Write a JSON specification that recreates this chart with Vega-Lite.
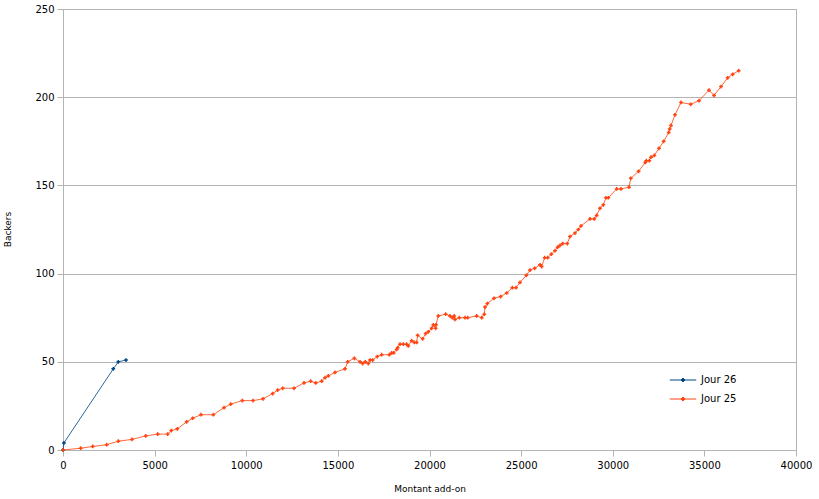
{
  "$schema": "https://vega.github.io/schema/vega-lite/v6.json",
  "width": 733,
  "height": 441,
  "autosize": {"type": "none"},
  "padding": {"left": 63, "top": 9, "right": 23, "bottom": 49},
  "background": "white",
  "config": {
    "font": "DejaVu Sans",
    "view": {"stroke": "#b3b3b3", "strokeWidth": 1},
    "axis": {
      "labelFont": "DejaVu Sans",
      "labelFontSize": 10,
      "labelColor": "#000000",
      "titleFont": "DejaVu Sans",
      "titleFontSize": 9,
      "titleFontWeight": "normal",
      "titleColor": "#000000",
      "domainColor": "#b3b3b3",
      "tickColor": "#b3b3b3",
      "gridColor": "#b3b3b3",
      "tickSize": 6
    },
    "legend": {"labelFont": "DejaVu Sans", "labelFontSize": 10, "labelColor": "#000000"}
  },
  "datasets": {
    "pts": [
      {"serie": "Jour 26", "montant": 0, "backers": 0},
      {"serie": "Jour 26", "montant": 50, "backers": 4},
      {"serie": "Jour 26", "montant": 2745, "backers": 46},
      {"serie": "Jour 26", "montant": 3020, "backers": 50},
      {"serie": "Jour 26", "montant": 3438, "backers": 51},
      {"serie": "Jour 25", "montant": 0, "backers": 0},
      {"serie": "Jour 25", "montant": 964, "backers": 1},
      {"serie": "Jour 25", "montant": 1620, "backers": 2},
      {"serie": "Jour 25", "montant": 2383, "backers": 3},
      {"serie": "Jour 25", "montant": 3020, "backers": 5},
      {"serie": "Jour 25", "montant": 3765, "backers": 6},
      {"serie": "Jour 25", "montant": 4511, "backers": 8},
      {"serie": "Jour 25", "montant": 5167, "backers": 9},
      {"serie": "Jour 25", "montant": 5713, "backers": 9},
      {"serie": "Jour 25", "montant": 5912, "backers": 11},
      {"serie": "Jour 25", "montant": 6240, "backers": 12},
      {"serie": "Jour 25", "montant": 6749, "backers": 16},
      {"serie": "Jour 25", "montant": 7077, "backers": 18},
      {"serie": "Jour 25", "montant": 7531, "backers": 20},
      {"serie": "Jour 25", "montant": 8204, "backers": 20},
      {"serie": "Jour 25", "montant": 8786, "backers": 24},
      {"serie": "Jour 25", "montant": 9150, "backers": 26},
      {"serie": "Jour 25", "montant": 9787, "backers": 28},
      {"serie": "Jour 25", "montant": 10370, "backers": 28},
      {"serie": "Jour 25", "montant": 10915, "backers": 29},
      {"serie": "Jour 25", "montant": 11443, "backers": 32},
      {"serie": "Jour 25", "montant": 11716, "backers": 34},
      {"serie": "Jour 25", "montant": 11989, "backers": 35},
      {"serie": "Jour 25", "montant": 12607, "backers": 35},
      {"serie": "Jour 25", "montant": 13152, "backers": 38},
      {"serie": "Jour 25", "montant": 13516, "backers": 39},
      {"serie": "Jour 25", "montant": 13790, "backers": 38},
      {"serie": "Jour 25", "montant": 14115, "backers": 39},
      {"serie": "Jour 25", "montant": 14297, "backers": 41},
      {"serie": "Jour 25", "montant": 14478, "backers": 42},
      {"serie": "Jour 25", "montant": 14843, "backers": 44},
      {"serie": "Jour 25", "montant": 15389, "backers": 46},
      {"serie": "Jour 25", "montant": 15535, "backers": 50},
      {"serie": "Jour 25", "montant": 15897, "backers": 52},
      {"serie": "Jour 25", "montant": 16208, "backers": 50},
      {"serie": "Jour 25", "montant": 16353, "backers": 49},
      {"serie": "Jour 25", "montant": 16497, "backers": 50},
      {"serie": "Jour 25", "montant": 16660, "backers": 49},
      {"serie": "Jour 25", "montant": 16753, "backers": 51},
      {"serie": "Jour 25", "montant": 16899, "backers": 51},
      {"serie": "Jour 25", "montant": 17152, "backers": 53},
      {"serie": "Jour 25", "montant": 17390, "backers": 54},
      {"serie": "Jour 25", "montant": 17807, "backers": 54},
      {"serie": "Jour 25", "montant": 17935, "backers": 55},
      {"serie": "Jour 25", "montant": 18045, "backers": 55},
      {"serie": "Jour 25", "montant": 18208, "backers": 57},
      {"serie": "Jour 25", "montant": 18263, "backers": 58},
      {"serie": "Jour 25", "montant": 18390, "backers": 60},
      {"serie": "Jour 25", "montant": 18571, "backers": 60},
      {"serie": "Jour 25", "montant": 18753, "backers": 60},
      {"serie": "Jour 25", "montant": 18844, "backers": 59},
      {"serie": "Jour 25", "montant": 19027, "backers": 62},
      {"serie": "Jour 25", "montant": 19171, "backers": 61},
      {"serie": "Jour 25", "montant": 19298, "backers": 61},
      {"serie": "Jour 25", "montant": 19353, "backers": 65},
      {"serie": "Jour 25", "montant": 19626, "backers": 63},
      {"serie": "Jour 25", "montant": 19790, "backers": 66},
      {"serie": "Jour 25", "montant": 19935, "backers": 67},
      {"serie": "Jour 25", "montant": 20117, "backers": 69},
      {"serie": "Jour 25", "montant": 20208, "backers": 71},
      {"serie": "Jour 25", "montant": 20335, "backers": 69},
      {"serie": "Jour 25", "montant": 20353, "backers": 71},
      {"serie": "Jour 25", "montant": 20480, "backers": 76},
      {"serie": "Jour 25", "montant": 20883, "backers": 77},
      {"serie": "Jour 25", "montant": 21117, "backers": 76},
      {"serie": "Jour 25", "montant": 21244, "backers": 75},
      {"serie": "Jour 25", "montant": 21353, "backers": 76},
      {"serie": "Jour 25", "montant": 21390, "backers": 74},
      {"serie": "Jour 25", "montant": 21626, "backers": 75},
      {"serie": "Jour 25", "montant": 21937, "backers": 75},
      {"serie": "Jour 25", "montant": 22083, "backers": 75},
      {"serie": "Jour 25", "montant": 22574, "backers": 76},
      {"serie": "Jour 25", "montant": 22847, "backers": 75},
      {"serie": "Jour 25", "montant": 22992, "backers": 77},
      {"serie": "Jour 25", "montant": 23029, "backers": 81},
      {"serie": "Jour 25", "montant": 23156, "backers": 83},
      {"serie": "Jour 25", "montant": 23520, "backers": 86},
      {"serie": "Jour 25", "montant": 23884, "backers": 87},
      {"serie": "Jour 25", "montant": 24211, "backers": 89},
      {"serie": "Jour 25", "montant": 24520, "backers": 92},
      {"serie": "Jour 25", "montant": 24720, "backers": 92},
      {"serie": "Jour 25", "montant": 24938, "backers": 95},
      {"serie": "Jour 25", "montant": 25284, "backers": 99},
      {"serie": "Jour 25", "montant": 25484, "backers": 102},
      {"serie": "Jour 25", "montant": 25739, "backers": 103},
      {"serie": "Jour 25", "montant": 26030, "backers": 105},
      {"serie": "Jour 25", "montant": 26121, "backers": 104},
      {"serie": "Jour 25", "montant": 26285, "backers": 109},
      {"serie": "Jour 25", "montant": 26448, "backers": 109},
      {"serie": "Jour 25", "montant": 26648, "backers": 111},
      {"serie": "Jour 25", "montant": 26849, "backers": 113},
      {"serie": "Jour 25", "montant": 26994, "backers": 115},
      {"serie": "Jour 25", "montant": 27121, "backers": 116},
      {"serie": "Jour 25", "montant": 27268, "backers": 117},
      {"serie": "Jour 25", "montant": 27519, "backers": 117},
      {"serie": "Jour 25", "montant": 27666, "backers": 121},
      {"serie": "Jour 25", "montant": 27939, "backers": 123},
      {"serie": "Jour 25", "montant": 28121, "backers": 125},
      {"serie": "Jour 25", "montant": 28267, "backers": 127},
      {"serie": "Jour 25", "montant": 28758, "backers": 131},
      {"serie": "Jour 25", "montant": 28994, "backers": 131},
      {"serie": "Jour 25", "montant": 29121, "backers": 133},
      {"serie": "Jour 25", "montant": 29303, "backers": 137},
      {"serie": "Jour 25", "montant": 29485, "backers": 139},
      {"serie": "Jour 25", "montant": 29631, "backers": 143},
      {"serie": "Jour 25", "montant": 29758, "backers": 143},
      {"serie": "Jour 25", "montant": 30212, "backers": 148},
      {"serie": "Jour 25", "montant": 30449, "backers": 148},
      {"serie": "Jour 25", "montant": 30886, "backers": 149},
      {"serie": "Jour 25", "montant": 30985, "backers": 154},
      {"serie": "Jour 25", "montant": 31410, "backers": 158},
      {"serie": "Jour 25", "montant": 31776, "backers": 163},
      {"serie": "Jour 25", "montant": 31831, "backers": 164},
      {"serie": "Jour 25", "montant": 31995, "backers": 164},
      {"serie": "Jour 25", "montant": 32088, "backers": 166},
      {"serie": "Jour 25", "montant": 32268, "backers": 167},
      {"serie": "Jour 25", "montant": 32525, "backers": 171},
      {"serie": "Jour 25", "montant": 32781, "backers": 175},
      {"serie": "Jour 25", "montant": 33054, "backers": 180},
      {"serie": "Jour 25", "montant": 33108, "backers": 182},
      {"serie": "Jour 25", "montant": 33179, "backers": 184},
      {"serie": "Jour 25", "montant": 33397, "backers": 190},
      {"serie": "Jour 25", "montant": 33725, "backers": 197},
      {"serie": "Jour 25", "montant": 34254, "backers": 196},
      {"serie": "Jour 25", "montant": 34707, "backers": 198},
      {"serie": "Jour 25", "montant": 35253, "backers": 204},
      {"serie": "Jour 25", "montant": 35526, "backers": 201},
      {"serie": "Jour 25", "montant": 35908, "backers": 206},
      {"serie": "Jour 25", "montant": 36272, "backers": 211},
      {"serie": "Jour 25", "montant": 36545, "backers": 213},
      {"serie": "Jour 25", "montant": 36872, "backers": 215}
    ]
  },
  "data": {"name": "pts"},
  "encoding": {
    "x": {
      "field": "montant",
      "type": "quantitative",
      "scale": {"domain": [0, 40000], "nice": false},
      "axis": {
        "title": "Montant add-on",
        "values": [0, 5000, 10000, 15000, 20000, 25000, 30000, 35000, 40000],
        "format": "d",
        "grid": false,
        "labelPadding": 4,
        "titlePadding": 14,
        "labelFlush": false
      }
    },
    "y": {
      "field": "backers",
      "type": "quantitative",
      "scale": {"domain": [0, 250], "nice": false},
      "axis": {
        "title": "Backers",
        "values": [0, 50, 100, 150, 200, 250],
        "grid": true,
        "labelPadding": 3,
        "titleX": -56,
        "titleY": 220,
        "titleAngle": -90,
        "titleAlign": "center",
        "titleBaseline": "middle"
      }
    },
    "color": {
      "field": "serie",
      "type": "nominal",
      "scale": {"domain": ["Jour 26", "Jour 25"], "range": ["#004586", "#ff420e"]},
      "legend": {
        "title": null,
        "orient": "none",
        "legendX": 606,
        "legendY": 357,
        "symbolType": "M-1,0L1,0M0,-0.15L0.15,0L0,0.15L-0.15,0Z",
        "symbolSize": 700,
        "symbolStrokeWidth": 1,
        "symbolOpacity": 1,
        "rowPadding": -7,
        "labelOffset": 4
      }
    }
  },
  "layer": [
    {"mark": {"type": "line", "strokeWidth": 1, "opacity": 0.8}},
    {"mark": {"type": "point", "shape": "cross", "size": 14, "filled": true, "opacity": 1}}
  ]
}
